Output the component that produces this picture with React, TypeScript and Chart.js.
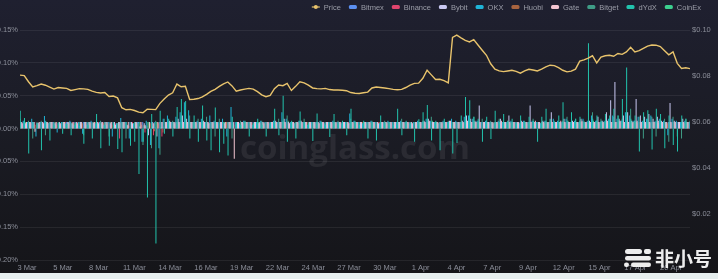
import React, { useEffect, useRef } from 'react';
import { Chart, registerables } from 'chart.js';

Chart.register(...registerables);

// x axis in 8-hour slots (slot 0 = first data point); date label positions on that axis
const tickSlots = [1.65, 10.09, 18.53, 26.97, 35.4, 43.84, 52.28, 60.72, 69.16, 77.59, 86.03, 94.47, 102.91, 111.35, 119.78, 128.22, 136.66, 145.1, 153.54];
const tickLabels = ['3 Mar', '5 Mar', '8 Mar', '11 Mar', '14 Mar', '16 Mar', '19 Mar', '22 Mar', '24 Mar', '27 Mar', '30 Mar', '1 Apr', '4 Apr', '7 Apr', '9 Apr', '12 Apr', '15 Apr', '17 Apr', '20 Apr'];

const leftTicks = { min: -0.2, max: 0.15, step: 0.05 };
const rightTicks = { min: 0, max: 0.1, step: 0.02 };

// Price (USD)
const priceValues = [
  0.0804, 0.0802, 0.0775, 0.0752, 0.0758, 0.0765, 0.0760, 0.0752, 0.0743, 0.0750,
  0.0748, 0.0746, 0.0737, 0.0741, 0.0745, 0.0744, 0.0742, 0.0734, 0.0729, 0.0726,
  0.0728, 0.0711, 0.0713, 0.0705, 0.0662, 0.0653, 0.0655, 0.0650, 0.0643, 0.0640,
  0.0656, 0.0655, 0.0654, 0.0681, 0.0700, 0.0717, 0.0727, 0.0765, 0.0753, 0.0755,
  0.0698, 0.0699, 0.0702, 0.0709, 0.0720, 0.0733, 0.0742, 0.0755, 0.0766, 0.0774,
  0.0757, 0.0734, 0.0739, 0.0743, 0.0746, 0.0743, 0.0732, 0.0718, 0.0710, 0.0716,
  0.0745, 0.0761, 0.0758, 0.0768, 0.0737, 0.0755, 0.0775, 0.0770, 0.0760, 0.0748,
  0.0745, 0.0744, 0.0746, 0.0741, 0.0739, 0.0739, 0.0738, 0.0736, 0.0728, 0.0725,
  0.0724, 0.0727, 0.0730, 0.0748, 0.0752, 0.0750, 0.0748, 0.0745, 0.0742, 0.0740,
  0.0742, 0.0750, 0.0760, 0.0768, 0.0769, 0.0790, 0.0825, 0.0805, 0.0785, 0.0786,
  0.0780, 0.0770, 0.0968, 0.0978, 0.0966, 0.0955, 0.0948, 0.0958, 0.0935, 0.0912,
  0.0890, 0.0853, 0.0830, 0.0822, 0.0819, 0.0822, 0.0825, 0.0820, 0.0812, 0.0822,
  0.0829, 0.0826, 0.0822, 0.0830, 0.0840, 0.0847, 0.0845, 0.0836, 0.0825, 0.0818,
  0.0821, 0.0830, 0.0865, 0.0870, 0.0878, 0.0888, 0.0857, 0.0882, 0.0888, 0.0890,
  0.0886, 0.0898, 0.0894, 0.0905, 0.0925, 0.0905, 0.0910, 0.0920, 0.0930, 0.0935,
  0.0934, 0.0928, 0.0910, 0.0892, 0.0905, 0.0855, 0.0833, 0.0836, 0.0832,
];

// Funding rates (%)
const bitmexRates = [
  0.010, 0.010, 0.010, 0.008, 0.010, 0.010, 0.010, 0.010, 0.008, 0.010,
  0.010, 0.010, 0.010, 0.010, 0.010, 0.008, 0.010, 0.010, 0.010, 0.010,
  0.010, 0.010, 0.008, 0.010, 0.010, 0.010, 0.005, 0.010, 0.010, 0.004,
  0.010, 0.002, 0.010, 0.003, 0.010, 0.010, 0.010, 0.010, 0.010, 0.010,
  0.010, 0.010, 0.010, 0.010, 0.010, 0.010, 0.008, 0.010, 0.010, 0.010,
  0.008, 0.010, 0.010, 0.010, 0.010, 0.010, 0.010, 0.010, 0.010, 0.010,
  0.010, 0.010, 0.010, 0.010, 0.010, 0.010, 0.010, 0.010, 0.010, 0.010,
  0.010, 0.010, 0.010, 0.010, 0.010, 0.010, 0.010, 0.010, 0.010, 0.010,
  0.010, 0.010, 0.010, 0.010, 0.010, 0.010, 0.010, 0.010, 0.010, 0.010,
  0.010, 0.010, 0.010, 0.010, 0.010, 0.010, 0.010, 0.010, 0.010, 0.010,
  0.010, 0.010, 0.010, 0.010, 0.010, 0.010, 0.012, 0.010, 0.010, 0.010,
  0.010, 0.010, 0.010, 0.010, 0.010, 0.010, 0.010, 0.010, 0.010, 0.010,
  0.010, 0.010, 0.010, 0.010, 0.010, 0.010, 0.010, 0.010, 0.010, 0.010,
  0.010, 0.010, 0.010, 0.010, 0.010, 0.012, 0.010, 0.010, 0.010, 0.010,
  0.010, 0.012, 0.010, 0.010, 0.012, 0.010, 0.010, 0.010, 0.010, 0.010,
  0.010, 0.010, 0.010, 0.010, 0.010, 0.010, 0.010, 0.010, 0.010,
];
const binanceRates = [
  0.010, 0.010, 0.008, 0.010, 0.006, 0.010, 0.008, 0.010, 0.010, 0.005,
  0.010, 0.008, 0.010, 0.010, 0.006, 0.010, 0.008, 0.010, 0.010, 0.010,
  0.006, 0.010, 0.008, -0.015, 0.010, 0.006, 0.010, 0.008, 0.010, -0.006,
  0.008, -0.010, 0.010, -0.012, 0.010, 0.010, 0.008, 0.010, 0.010, 0.010,
  0.010, 0.010, 0.008, 0.010, 0.010, 0.010, 0.008, 0.010, 0.010, 0.010,
  0.010, 0.008, 0.010, 0.010, 0.010, 0.010, 0.008, 0.010, 0.010, 0.010,
  0.010, 0.010, 0.010, 0.008, 0.010, 0.010, 0.010, 0.010, 0.008, 0.010,
  0.010, 0.010, 0.010, 0.010, 0.008, 0.010, 0.010, 0.010, 0.010, 0.010,
  0.008, 0.010, 0.010, 0.010, 0.010, 0.010, 0.008, 0.010, 0.010, 0.010,
  0.010, 0.010, 0.008, 0.010, 0.010, 0.010, 0.010, 0.010, 0.010, 0.008,
  0.010, 0.010, 0.010, 0.010, 0.008, 0.010, 0.010, 0.010, 0.010, 0.010,
  0.010, 0.008, 0.010, 0.010, 0.010, 0.010, 0.010, 0.008, 0.010, 0.010,
  0.010, 0.010, 0.010, 0.010, 0.008, 0.010, 0.010, 0.010, 0.010, 0.010,
  0.008, 0.010, 0.010, 0.010, 0.010, 0.010, 0.010, 0.008, 0.010, 0.010,
  0.010, 0.010, 0.010, 0.010, 0.008, 0.010, 0.010, 0.010, 0.010, 0.010,
  0.008, 0.010, 0.010, 0.010, 0.010, 0.008, 0.010, 0.010, 0.010,
];
const bybitRates = [
  0.010, 0.010, 0.008, 0.010, 0.010, 0.009, 0.010, 0.010, 0.010, 0.008,
  0.010, 0.010, 0.010, 0.008, 0.010, 0.010, 0.010, 0.010, 0.009, 0.010,
  0.010, 0.010, 0.008, 0.010, 0.010, 0.010, 0.005, 0.010, 0.010, 0.003,
  0.008, -0.010, 0.010, -0.012, 0.010, 0.010, 0.012, 0.010, 0.015, 0.020,
  0.015, 0.010, 0.010, 0.010, 0.012, 0.010, 0.010, 0.010, 0.010, 0.008,
  0.010, 0.010, 0.010, 0.010, 0.010, 0.010, 0.010, 0.008, 0.010, 0.010,
  0.010, 0.012, 0.010, 0.015, 0.010, 0.010, 0.010, 0.012, 0.010, 0.010,
  0.010, 0.010, 0.010, 0.010, 0.010, 0.010, 0.010, 0.010, 0.010, 0.010,
  0.010, 0.010, 0.010, 0.010, 0.010, 0.010, 0.010, 0.010, 0.010, 0.010,
  0.010, 0.010, 0.010, 0.010, 0.010, 0.010, 0.012, 0.015, 0.010, 0.010,
  0.010, 0.010, 0.012, 0.010, 0.010, 0.012, 0.020, 0.015, 0.012, 0.035,
  0.010, 0.010, 0.010, 0.010, 0.015, 0.010, 0.020, 0.010, 0.010, 0.012,
  0.010, 0.035, 0.010, 0.010, 0.012, 0.010, 0.025, 0.010, 0.010, 0.015,
  0.010, 0.012, 0.010, 0.015, 0.010, 0.012, 0.010, 0.018, 0.012, 0.025,
  0.043, 0.071, 0.015, 0.020, 0.025, 0.012, 0.045, 0.020, 0.018, 0.022,
  0.015, 0.018, 0.012, 0.010, 0.039, 0.012, 0.010, 0.015, 0.010,
];
const okxRates = [
  0.018, 0.012, 0.010, 0.015, -0.012, 0.010, 0.019, 0.008, 0.010, -0.006,
  0.010, 0.008, 0.012, 0.006, 0.010, -0.008, 0.010, 0.012, 0.008, 0.010,
  0.006, 0.010, -0.012, 0.008, 0.016, 0.010, -0.015, 0.008, 0.010, -0.020,
  0.012, -0.025, 0.010, -0.030, 0.015, 0.020, 0.010, 0.018, 0.025, 0.040,
  0.028, 0.010, 0.012, 0.015, 0.010, 0.020, 0.012, 0.010, 0.015, -0.012,
  0.033, 0.010, 0.008, 0.012, 0.010, 0.006, 0.010, 0.012, 0.010, 0.008,
  0.012, 0.010, 0.025, 0.015, 0.010, 0.008, 0.012, 0.010, 0.006, 0.010,
  0.010, 0.012, 0.008, 0.010, 0.012, 0.010, 0.008, 0.010, 0.023, 0.012,
  0.010, 0.008, 0.010, 0.012, 0.010, 0.008, 0.010, 0.012, 0.010, 0.010,
  0.012, 0.010, 0.008, 0.010, 0.012, 0.010, 0.015, 0.012, 0.010, 0.008,
  0.012, 0.010, 0.015, 0.012, 0.010, 0.018, 0.020, 0.015, 0.012, 0.010,
  0.012, 0.010, 0.008, 0.012, 0.010, 0.010, 0.012, 0.010, 0.008, 0.012,
  0.010, 0.012, 0.010, 0.008, 0.012, 0.010, 0.015, 0.012, 0.010, 0.015,
  0.010, 0.012, 0.010, 0.015, 0.012, 0.020, 0.012, 0.010, 0.012, 0.015,
  0.020, 0.015, 0.012, 0.025, 0.020, 0.012, 0.018, 0.012, 0.015, 0.020,
  0.012, 0.015, 0.012, -0.010, 0.015, 0.012, 0.010, 0.012, 0.010,
];
const huobiRates = [
  0.008, 0.010, 0.008, 0.006, 0.010, 0.008, 0.008, 0.010, 0.006, 0.008,
  0.010, 0.008, 0.008, 0.010, 0.008, 0.006, 0.008, 0.010, 0.008, 0.008,
  0.008, 0.006, 0.008, 0.008, 0.010, 0.004, 0.008, 0.008, 0.006, 0.002,
  0.008, -0.004, 0.008, -0.006, 0.008, 0.010, 0.008, 0.008, 0.010, 0.010,
  0.010, 0.008, 0.008, 0.010, 0.008, 0.008, 0.006, 0.008, 0.010, 0.008,
  0.006, 0.008, 0.008, 0.010, 0.008, 0.008, 0.008, 0.010, 0.008, 0.008,
  0.008, 0.010, 0.008, 0.010, 0.008, 0.008, 0.008, 0.010, 0.008, 0.008,
  0.008, 0.008, 0.010, 0.008, 0.008, 0.008, 0.010, 0.008, 0.008, 0.008,
  0.010, 0.008, 0.008, 0.008, 0.010, 0.008, 0.008, 0.008, 0.010, 0.008,
  0.008, 0.008, 0.010, 0.008, 0.008, 0.008, 0.010, 0.010, 0.008, 0.008,
  0.008, 0.008, 0.010, 0.008, 0.008, 0.008, 0.010, 0.010, 0.008, 0.010,
  0.008, 0.008, 0.008, 0.010, 0.008, 0.008, 0.010, 0.008, 0.008, 0.008,
  0.010, 0.008, 0.008, 0.008, 0.010, 0.008, 0.010, 0.008, 0.008, 0.010,
  0.008, 0.008, 0.010, 0.008, 0.008, 0.010, 0.008, 0.010, 0.008, 0.010,
  0.010, 0.010, 0.008, 0.010, 0.010, 0.008, 0.010, 0.008, 0.008, 0.010,
  0.008, 0.010, 0.008, 0.008, 0.010, 0.008, 0.008, 0.010, 0.008,
];
const gateRates = [
  0.010, 0.008, 0.010, 0.010, -0.005, 0.010, 0.008, 0.010, 0.010, 0.010,
  0.008, 0.010, 0.010, 0.010, 0.008, 0.010, 0.010, 0.010, 0.010, 0.008,
  0.010, 0.010, 0.010, 0.006, 0.010, 0.010, 0.010, 0.008, 0.010, 0.010,
  0.005, 0.010, 0.008, 0.010, 0.010, 0.010, 0.010, 0.010, 0.010, 0.010,
  0.010, 0.010, 0.010, 0.010, 0.010, 0.008, 0.010, 0.010, 0.010, 0.010,
  0.010, -0.046, 0.010, 0.010, 0.010, 0.010, 0.010, 0.010, 0.008, 0.010,
  0.010, 0.010, 0.010, 0.010, 0.008, 0.010, 0.010, 0.010, 0.010, 0.010,
  0.010, 0.008, 0.010, 0.010, 0.010, 0.010, 0.010, 0.010, 0.008, 0.010,
  0.010, 0.010, 0.010, 0.010, 0.010, 0.008, 0.010, 0.010, 0.010, 0.010,
  0.010, 0.010, 0.010, 0.008, 0.010, 0.010, 0.010, 0.012, 0.010, 0.010,
  0.010, 0.010, 0.012, 0.010, 0.010, 0.010, 0.012, 0.010, 0.010, 0.010,
  0.010, 0.010, 0.010, 0.010, 0.012, 0.010, 0.010, 0.010, 0.010, 0.010,
  0.010, 0.010, 0.012, 0.010, 0.010, 0.010, 0.010, 0.010, 0.012, 0.010,
  0.010, 0.010, 0.010, 0.012, 0.010, 0.010, 0.010, 0.010, 0.010, 0.012,
  0.010, 0.010, 0.012, 0.010, 0.010, 0.010, 0.012, 0.010, 0.010, 0.010,
  0.010, 0.012, 0.010, 0.010, 0.010, 0.010, 0.010, 0.010, 0.010,
];
const bitgetRates = [
  0.015, 0.010, 0.012, -0.015, 0.010, 0.012, -0.010, 0.010, 0.008, 0.010,
  0.010, 0.006, 0.010, 0.008, 0.010, -0.010, 0.010, 0.008, 0.010, 0.012,
  0.010, -0.012, 0.010, 0.008, 0.010, -0.015, 0.010, 0.010, 0.008, -0.025,
  0.010, -0.030, 0.012, -0.040, 0.015, 0.010, 0.012, 0.010, 0.020, 0.025,
  0.020, 0.010, 0.015, 0.010, 0.018, 0.010, -0.012, 0.015, 0.010, 0.010,
  -0.015, 0.010, 0.012, 0.010, 0.010, 0.008, 0.010, 0.012, 0.010, 0.010,
  0.010, 0.015, 0.012, 0.020, 0.010, 0.010, 0.012, 0.015, 0.010, 0.010,
  0.010, 0.012, 0.010, 0.010, 0.010, 0.012, 0.010, 0.010, 0.015, 0.012,
  0.010, 0.010, 0.010, 0.012, 0.010, 0.010, 0.012, 0.010, 0.010, 0.010,
  0.015, 0.010, 0.010, 0.010, 0.010, 0.012, 0.015, 0.018, 0.010, 0.010,
  0.010, 0.012, 0.010, 0.010, 0.010, 0.012, 0.020, 0.018, 0.012, 0.015,
  0.010, 0.012, 0.010, 0.015, 0.010, 0.012, 0.010, 0.010, 0.010, 0.012,
  0.010, 0.015, 0.010, 0.010, 0.012, 0.015, 0.012, 0.010, 0.012, 0.018,
  0.010, 0.015, 0.012, 0.012, 0.010, 0.025, 0.012, 0.015, 0.010, 0.015,
  0.018, 0.020, 0.015, 0.020, 0.030, 0.012, 0.018, -0.015, 0.015, 0.018,
  -0.012, 0.015, 0.015, -0.020, 0.018, -0.012, -0.015, 0.015, 0.012,
];
const dydxRates = [
  0.012, 0.027, 0.016, -0.038, 0.010, 0.008, -0.033, 0.012, -0.018, 0.006,
  0.009, -0.008, 0.007, -0.010, 0.008, 0.004, -0.023, 0.006, -0.015, 0.022,
  -0.030, 0.005, -0.026, 0.008, -0.031, -0.036, 0.010, -0.026, -0.020, -0.069,
  -0.020, -0.105, 0.022, -0.175, 0.027, -0.008, 0.015, -0.012, 0.033, 0.045,
  0.042, -0.015, 0.020, -0.020, 0.035, -0.018, -0.033, 0.032, -0.036, -0.023,
  -0.041, 0.018, 0.010, 0.006, 0.012, -0.012, 0.008, 0.015, 0.006, -0.012,
  0.010, 0.030, -0.010, 0.050, -0.020, 0.012, -0.015, 0.026, 0.010, 0.008,
  -0.019, 0.023, 0.010, 0.006, -0.013, 0.022, 0.008, 0.012, -0.010, 0.030,
  0.010, 0.006, 0.012, -0.015, 0.010, -0.018, 0.020, 0.008, 0.010, 0.006,
  0.030, -0.010, 0.012, 0.008, -0.020, 0.014, 0.025, 0.036, -0.018, 0.012,
  -0.033, 0.015, 0.010, -0.038, -0.022, 0.020, 0.048, 0.043, 0.018, 0.015,
  -0.020, 0.018, -0.016, 0.027, 0.010, 0.022, 0.012, 0.015, 0.008, 0.020,
  0.010, 0.018, 0.012, -0.020, 0.018, 0.030, 0.014, 0.010, 0.020, 0.040,
  0.012, 0.025, 0.015, 0.018, 0.010, 0.130, 0.015, 0.020, 0.012, 0.022,
  0.020, 0.030, 0.020, 0.045, 0.093, 0.015, 0.020, -0.035, 0.025, 0.028,
  -0.032, 0.030, 0.022, -0.030, 0.020, -0.025, -0.035, 0.020, 0.015,
];
const coinexRates = [
  0.010, 0.010, 0.010, 0.010, 0.008, 0.010, 0.010, 0.010, 0.010, 0.010,
  0.010, 0.010, 0.008, 0.010, 0.010, 0.010, 0.010, 0.010, 0.010, 0.008,
  0.010, 0.010, 0.010, 0.010, 0.010, 0.006, 0.010, 0.010, 0.010, 0.005,
  0.010, 0.003, 0.010, 0.002, 0.010, 0.010, 0.010, 0.010, 0.012, 0.010,
  0.010, 0.010, 0.010, 0.010, 0.010, 0.010, 0.010, 0.010, 0.010, 0.010,
  0.008, 0.010, 0.010, 0.010, 0.010, 0.010, 0.010, 0.010, 0.010, 0.010,
  0.010, 0.010, 0.010, 0.012, 0.010, 0.010, 0.010, 0.010, 0.010, 0.010,
  0.010, 0.010, 0.010, 0.010, 0.010, 0.010, 0.010, 0.010, 0.010, 0.010,
  0.010, 0.010, 0.010, 0.010, 0.010, 0.010, 0.010, 0.010, 0.010, 0.010,
  0.010, 0.010, 0.010, 0.010, 0.010, 0.010, 0.010, 0.012, 0.010, 0.010,
  0.010, 0.010, 0.010, 0.010, 0.010, 0.010, 0.012, 0.010, 0.010, 0.010,
  0.010, 0.010, 0.010, 0.010, 0.010, 0.010, 0.010, 0.010, 0.010, 0.010,
  0.010, 0.010, 0.010, 0.010, 0.010, 0.010, 0.010, 0.010, 0.010, 0.012,
  0.010, 0.010, 0.010, 0.010, 0.010, 0.012, 0.010, 0.010, 0.010, 0.010,
  0.010, 0.012, 0.010, 0.010, 0.012, 0.010, 0.010, 0.010, 0.010, 0.010,
  0.010, 0.010, 0.010, 0.010, 0.010, 0.010, 0.010, 0.010, 0.010,
];

const exchangeNames = ['Bitmex', 'Binance', 'Bybit', 'OKX', 'Huobi', 'Gate', 'Bitget', 'dYdX', 'CoinEx'];
const exchangeRates = [bitmexRates, binanceRates, bybitRates, okxRates, huobiRates, gateRates, bitgetRates, dydxRates, coinexRates];
const exchangeColors = ['#5b8ff0', '#e0456e', '#c9c8f2', '#1fb3d6', '#a8643f', '#f4c6d2', '#3f9c86', '#22c3ad', '#3ccf8e'];
// drawing order (lower = drawn later, i.e. on top)
const exchangeDrawOrder = [9, 7, 2, 4, 8, 3, 5, 1, 6];
const priceColor = '#e8c36c';

const FONT = '"Liberation Sans", Arial, sans-serif';
const TICK_COLOR = '#8b8e99';
const LEGEND_COLOR = '#9b9da8';

const watermarkPlugin = {
  id: 'watermark',
  beforeDatasetsDraw(chart: any) {
    const ctx = chart.ctx;
    ctx.save();
    ctx.font = `bold 33px "Open Sans", ${FONT}`;
    ctx.fillStyle = 'rgba(255,255,255,0.075)';
    ctx.textAlign = 'center';
    ctx.textBaseline = 'alphabetic';
    ctx.fillText('coinglass.com', 355, 159);
    ctx.restore();
  },
};

const legendPlugin = {
  id: 'customLegend',
  afterDraw(chart: any) {
    const ctx = chart.ctx;
    ctx.save();
    ctx.font = `7.5px ${FONT}`;
    const items = chart.data.datasets.map((ds: any) => ({
      text: ds.label,
      color: ds.type === 'line' ? ds.borderColor : ds.backgroundColor,
      line: ds.type === 'line',
    }));
    const iconW = 8;
    const gap = 4;
    const spacing = 8;
    const widths = items.map((it: any) => iconW + gap + ctx.measureText(it.text).width);
    const total = widths.reduce((a: number, b: number) => a + b, 0) + spacing * (items.length - 1);
    let x = 701 - total;
    const y = 7;
    items.forEach((it: any, i: number) => {
      if (it.line) {
        ctx.strokeStyle = it.color;
        ctx.lineWidth = 1.2;
        ctx.beginPath();
        ctx.moveTo(x, y);
        ctx.lineTo(x + iconW, y);
        ctx.stroke();
        ctx.fillStyle = it.color;
        ctx.beginPath();
        ctx.arc(x + iconW / 2, y, 2, 0, Math.PI * 2);
        ctx.fill();
      } else {
        ctx.fillStyle = it.color;
        ctx.beginPath();
        if (ctx.roundRect) ctx.roundRect(x, y - 2, iconW, 4, 1.5);
        else ctx.rect(x, y - 2, iconW, 4);
        ctx.fill();
      }
      ctx.fillStyle = LEGEND_COLOR;
      ctx.textAlign = 'left';
      ctx.textBaseline = 'middle';
      ctx.fillText(it.text, x + iconW + gap, y + 0.5);
      x += widths[i] + spacing;
    });
    ctx.restore();
  },
};

const logoPlugin = {
  id: 'logo',
  afterDraw(chart: any) {
    const ctx = chart.ctx;
    ctx.save();
    ctx.fillStyle = 'rgba(245,245,245,0.97)';
    const rr = (x: number, y: number, w: number, h: number, r: number) => {
      ctx.beginPath();
      if (ctx.roundRect) ctx.roundRect(x, y, w, h, r);
      else ctx.rect(x, y, w, h);
      ctx.fill();
    };
    rr(625, 249, 17, 5, 2.5);
    rr(644, 249, 7, 5, 2);
    rr(625, 256, 26, 4.5, 2.2);
    rr(624, 262.5, 5, 4.5, 2.2);
    rr(631, 262.5, 20, 4.5, 2.2);
    ctx.font = 'bold 19px "Noto Sans CJK SC", sans-serif';
    ctx.textAlign = 'left';
    ctx.textBaseline = 'alphabetic';
    ctx.fillText('非小号', 655, 265.5);
    ctx.restore();
  },
};

export default function App() {
  const canvasRef = useRef<HTMLCanvasElement | null>(null);

  useEffect(() => {
    if (!canvasRef.current) return;
    const datasets: any[] = [
      {
        type: 'line',
        label: 'Price',
        data: priceValues.map((v, i) => ({ x: i, y: v })),
        borderColor: priceColor,
        backgroundColor: priceColor,
        borderWidth: 1.4,
        pointRadius: 0,
        tension: 0,
        yAxisID: 'y1',
        order: -10,
      },
      ...exchangeNames.map((name, k) => ({
        type: 'bar',
        label: name,
        data: exchangeRates[k].map((v, i) => ({ x: i, y: v })),
        backgroundColor: exchangeColors[k],
        borderWidth: 0,
        barThickness: 1,
        inflateAmount: 0,
        order: exchangeDrawOrder[k],
        yAxisID: 'y',
      })),
    ];

    const chart = new Chart(canvasRef.current, {
      type: 'bar',
      data: { datasets },
      options: {
        responsive: false,
        animation: false,
        devicePixelRatio: 1,
        layout: { padding: { top: 30, left: 0, right: 0, bottom: 0 } },
        plugins: {
          legend: { display: false },
          tooltip: { enabled: false },
        },
        scales: {
          x: {
            type: 'linear',
            min: 0,
            max: priceValues.length - 1,
            offset: false,
            grid: { display: false, drawTicks: false },
            border: { display: false },
            afterBuildTicks: (scale: any) => {
              scale.ticks = tickSlots.map((v) => ({ value: v }));
            },
            afterFit: (scale: any) => {
              scale.height = 13;
            },
            ticks: {
              autoSkip: false,
              maxRotation: 0,
              padding: 3,
              color: TICK_COLOR,
              font: { family: FONT, size: 7.5 },
              callback: (_v: any, i: number) => tickLabels[i],
            },
          },
          y: {
            position: 'left',
            min: leftTicks.min,
            max: leftTicks.max,
            grid: { color: 'rgba(255,255,255,0.07)', drawTicks: false },
            border: { display: false },
            afterFit: (scale: any) => {
              scale.width = 20;
            },
            ticks: {
              stepSize: leftTicks.step,
              padding: 2,
              color: TICK_COLOR,
              font: { family: FONT, size: 7.5 },
              callback: (v: any) => (Math.abs(v) < 1e-9 ? 0 : Number(v)).toFixed(2) + '%',
            },
          },
          y1: {
            position: 'right',
            min: rightTicks.min,
            max: rightTicks.max,
            grid: { display: false, drawTicks: false },
            border: { display: false },
            afterFit: (scale: any) => {
              scale.width = 28;
            },
            ticks: {
              stepSize: rightTicks.step,
              padding: 2,
              color: TICK_COLOR,
              font: { family: FONT, size: 7.5 },
              callback: (v: any) => (Number(v) < 0.001 ? '' : '$' + Number(v).toFixed(2)),
            },
          },
        },
      } as any,
      plugins: [watermarkPlugin, legendPlugin, logoPlugin],
    });
    return () => chart.destroy();
  }, []);

  return (
    <div style={{ position: 'fixed', left: 0, top: 0, width: 718, height: 279, background: '#e6eeee', overflow: 'hidden' }}>
      <div
        style={{
          position: 'absolute',
          left: 0,
          top: 0,
          width: 718,
          height: 273,
          background: 'linear-gradient(to bottom, #1f2030 0%, #1b1c25 45%, #151519 100%)',
        }}
      >
        <canvas ref={canvasRef} width={718} height={273} style={{ display: 'block' }} />
      </div>
    </div>
  );
}
